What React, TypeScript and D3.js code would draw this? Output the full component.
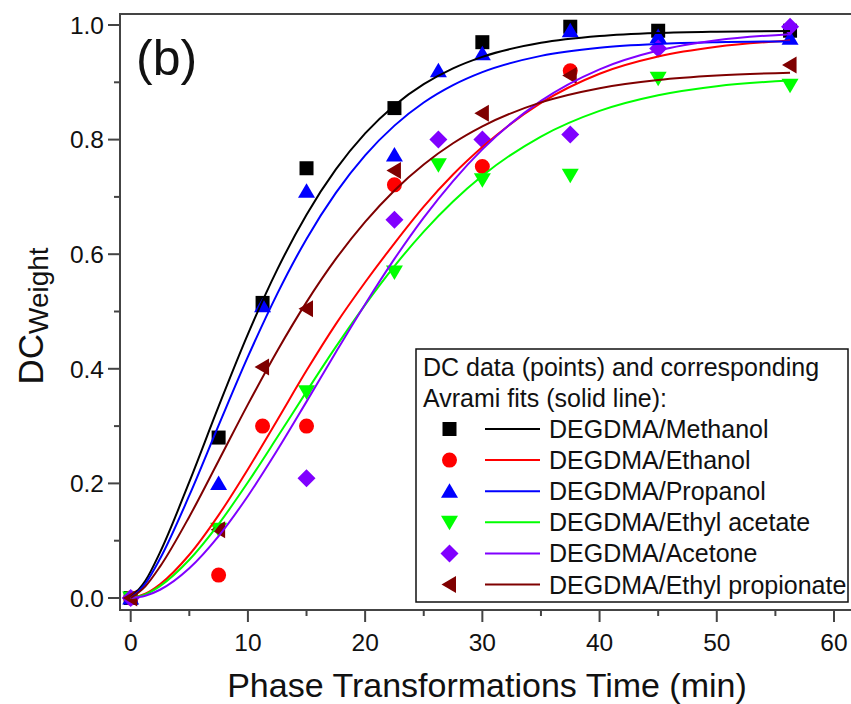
import React from "react";
import * as d3 from "d3";

// ---- data ----
const methanolTime = [0, 7.5, 11.25, 15, 22.5, 30, 37.5, 45, 56.25];
const methanolDC = [0, 0.28, 0.515, 0.75, 0.855, 0.97, 0.997, 0.99, 0.99];

const ethanolTime = [0, 7.5, 11.25, 15, 22.5, 30, 37.5];
const ethanolDC = [0, 0.04, 0.3, 0.3, 0.721, 0.753, 0.92];

const propanolTime = [0, 7.5, 11.25, 15, 22.5, 26.25, 30, 37.5, 45, 56.25];
const propanolDC = [0, 0.2, 0.51, 0.71, 0.773, 0.92, 0.95, 0.99, 0.98, 0.977];

const ethylAcetateTime = [0, 7.5, 15, 22.5, 26.25, 30, 37.5, 45, 56.25];
const ethylAcetateDC = [0, 0.12, 0.36, 0.569, 0.756, 0.73, 0.738, 0.907, 0.895];

const acetoneTime = [0, 15, 22.5, 26.25, 30, 37.5, 45, 56.25];
const acetoneDC = [0, 0.209, 0.66, 0.8, 0.8, 0.809, 0.959, 0.997];

const ethylPropionateTime = [0, 7.5, 11.25, 15, 22.5, 30, 37.5, 56.25];
const ethylPropionateDC = [0, 0.119, 0.403, 0.505, 0.746, 0.846, 0.912, 0.93];

// Avrami fit curves
const fitTime = [0, 1.25, 2.5, 5, 7.5, 10, 12.5, 15, 17.5, 20, 22.5, 25, 27.5, 30, 35, 40, 45, 50, 56.25];
const methanolFit = [0, 0.0299, 0.0796, 0.2027, 0.3344, 0.4605, 0.573, 0.669, 0.7479, 0.8108, 0.8597, 0.8967, 0.9243, 0.9444, 0.9689, 0.9807, 0.9861, 0.9884, 0.9895];
const ethanolFit = [0, 0.0074, 0.0239, 0.0755, 0.1447, 0.2248, 0.3104, 0.3969, 0.478, 0.551, 0.619, 0.683, 0.739, 0.787, 0.864, 0.915, 0.945, 0.962, 0.9728];
const propanolFit = [0, 0.0251, 0.0684, 0.179, 0.3012, 0.4211, 0.5308, 0.6267, 0.707, 0.7725, 0.8244, 0.8647, 0.8951, 0.9178, 0.9461, 0.9603, 0.9669, 0.9699, 0.9714];
const ethylAcetateFit = [0, 0.0064, 0.0208, 0.0667, 0.129, 0.2019, 0.2804, 0.3602, 0.4382, 0.5117, 0.5792, 0.6395, 0.6921, 0.7369, 0.8054, 0.8502, 0.8775, 0.8933, 0.9032];
const acetoneFit = [0, 0.0039, 0.0144, 0.0519, 0.108, 0.1781, 0.2578, 0.3427, 0.4289, 0.5128, 0.5918, 0.6639, 0.7277, 0.7829, 0.8675, 0.9226, 0.9554, 0.9734, 0.984];
const ethylPropionateFit = [0, 0.0204, 0.0547, 0.1419, 0.2396, 0.3379, 0.4312, 0.5164, 0.5917, 0.6565, 0.7113, 0.7566, 0.7936, 0.8231, 0.8649, 0.8898, 0.904, 0.9118, 0.9166];

const seriesNames = [
  "DEGDMA/Methanol",
  "DEGDMA/Ethanol",
  "DEGDMA/Propanol",
  "DEGDMA/Ethyl acetate",
  "DEGDMA/Acetone",
  "DEGDMA/Ethyl propionate",
];

const xTicks = [0, 10, 20, 30, 40, 50, 60];
const yTicks = [0, 0.2, 0.4, 0.6, 0.8, 1.0];

// ---- styling ----
const colors = ["#000000", "#ff0000", "#0000ff", "#00ff00", "#8000ff", "#7f0000"];
const shapes = ["square", "circle", "up", "down", "diamond", "left"];

const series = [
  { time: methanolTime, dc: methanolDC, fit: methanolFit },
  { time: ethanolTime, dc: ethanolDC, fit: ethanolFit },
  { time: propanolTime, dc: propanolDC, fit: propanolFit },
  { time: ethylAcetateTime, dc: ethylAcetateDC, fit: ethylAcetateFit },
  { time: acetoneTime, dc: acetoneDC, fit: acetoneFit },
  { time: ethylPropionateTime, dc: ethylPropionateDC, fit: ethylPropionateFit },
];

const W = 851;
const H = 704;
const FONT = "Liberation Sans, Arial, Helvetica, sans-serif";

const frame = { left: 120, right: 854, top: 14, bottom: 610 };

function markerPath(shape: string, cx: number, cy: number): string {
  switch (shape) {
    case "square": {
      const s = 7;
      return `M${cx - s},${cy - s}H${cx + s}V${cy + s}H${cx - s}Z`;
    }
    case "circle": {
      const r = 7.5;
      return `M${cx - r},${cy}A${r},${r} 0 1,0 ${cx + r},${cy}A${r},${r} 0 1,0 ${cx - r},${cy}Z`;
    }
    case "up":
      return `M${cx},${cy - 8}L${cx + 8.5},${cy + 6.5}L${cx - 8.5},${cy + 6.5}Z`;
    case "down":
      return `M${cx},${cy + 8}L${cx + 8.5},${cy - 6.5}L${cx - 8.5},${cy - 6.5}Z`;
    case "diamond": {
      const d = 9;
      return `M${cx},${cy - d}L${cx + d},${cy}L${cx},${cy + d}L${cx - d},${cy}Z`;
    }
    case "left":
      return `M${cx - 8},${cy}L${cx + 6.5},${cy - 8.5}L${cx + 6.5},${cy + 8.5}Z`;
  }
  return "";
}

export default function App() {
  const x = d3.scaleLinear().domain([0, 60]).range([130.7, 834]);
  const y = d3.scaleLinear().domain([0, 1]).range([598, 25]);

  const line = d3
    .line<[number, number]>()
    .x((d) => x(d[0]))
    .y((d) => y(d[1]))
    .curve(d3.curveMonotoneX);

  const xMinor = d3.range(0, 61, 5).filter((v) => v % 10 !== 0);
  const yMinor = d3.range(0.1, 1.0, 0.2);

  const legX = 416;
  const legY = 349;
  const legW = 432;
  const legH = 253;
  const rowY0 = 429;
  const rowStep = 31.1;

  return (
    <svg
      width={W}
      height={H}
      viewBox={`0 0 ${W} ${H}`}
      style={{ position: "absolute", left: 0, top: 0, background: "#fff" }}
      fontFamily={FONT}
    >
      <rect x={0} y={0} width={W} height={H} fill="#fff" />

      {/* markers */}
      {series.map((s, i) => (
        <g key={"m" + i} fill={colors[i]}>
          {s.time.map((t, j) => (
            <path key={j} d={markerPath(shapes[i], x(t), y(s.dc[j]))} />
          ))}
        </g>
      ))}

      {/* fit curves */}
      {series.map((s, i) => (
        <path
          key={"l" + i}
          d={line(fitTime.map((t, j) => [t, s.fit[j]] as [number, number])) || ""}
          fill="none"
          stroke={colors[i]}
          strokeWidth={2}
        />
      ))}

      {/* frame */}
      <rect
        x={frame.left}
        y={frame.top}
        width={frame.right - frame.left}
        height={frame.bottom - frame.top}
        fill="none"
        stroke="#444"
        strokeWidth={2}
      />

      {/* y axis ticks */}
      {yTicks.map((v) => (
        <g key={"yt" + v}>
          <line x1={frame.left - 12} x2={frame.left} y1={y(v)} y2={y(v)} stroke="#444" strokeWidth={2} />
          <text x={frame.left - 16} y={y(v)} dy="0.36em" textAnchor="end" fontSize={24.5} fill="#111">
            {v.toFixed(1)}
          </text>
        </g>
      ))}
      {yMinor.map((v) => (
        <line key={"ym" + v} x1={frame.left - 6} x2={frame.left} y1={y(v)} y2={y(v)} stroke="#444" strokeWidth={2} />
      ))}

      {/* x axis ticks */}
      {xTicks.map((v) => (
        <g key={"xt" + v}>
          <line x1={x(v)} x2={x(v)} y1={frame.bottom} y2={frame.bottom + 12} stroke="#444" strokeWidth={2} />
          <text x={x(v)} y={651} textAnchor="middle" fontSize={24.5} fill="#111">
            {v}
          </text>
        </g>
      ))}
      {xMinor.map((v) => (
        <line key={"xm" + v} x1={x(v)} x2={x(v)} y1={frame.bottom} y2={frame.bottom + 6} stroke="#444" strokeWidth={2} />
      ))}

      {/* axis titles */}
      <text x={487} y={697} textAnchor="middle" fontSize={34} fill="#111">
        Phase Transformations Time (min)
      </text>
      <text transform={`translate(43,316) rotate(-90)`} textAnchor="middle" fill="#111">
        <tspan fontSize={35}>DC</tspan>
        <tspan fontSize={28} dy={5}>Weight</tspan>
      </text>

      {/* panel label */}
      <text x={136} y={75} fontSize={50} fill="#111">
        (b)
      </text>

      {/* legend */}
      <rect x={legX} y={legY} width={legW} height={legH} fill="#fff" stroke="#111" strokeWidth={1.5} />
      <text x={423} y={367} dy="0.36em" fontSize={25} fill="#111">
        DC data (points) and corresponding
      </text>
      <text x={423} y={398} dy="0.36em" fontSize={25} fill="#111">
        Avrami fits (solid line):
      </text>
      {seriesNames.map((name, i) => {
        const ry = rowY0 + i * rowStep;
        return (
          <g key={"lg" + i}>
            <path d={markerPath(shapes[i], 449.5, ry)} fill={colors[i]} />
            <line x1={485} x2={540} y1={ry} y2={ry} stroke={colors[i]} strokeWidth={2} />
            <text x={549} y={ry} dy="0.36em" fontSize={25} fill="#111">
              {name}
            </text>
          </g>
        );
      })}
    </svg>
  );
}
